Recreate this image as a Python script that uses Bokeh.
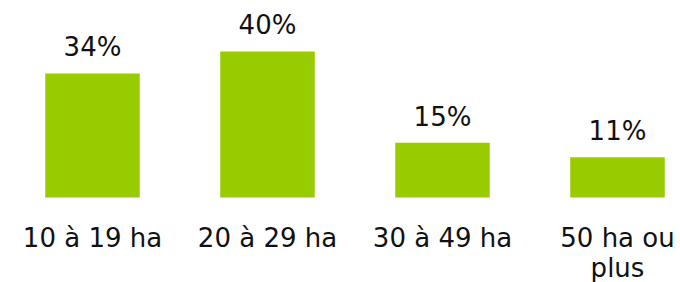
from bokeh.plotting import figure
from bokeh.models import ColumnDataSource, Range1d
from bokeh.core.properties import value
from bokeh.embed import file_html
from bokeh.resources import INLINE

categories = ["10 à 19 ha", "20 à 29 ha", "30 à 49 ha", "50 ha ou\nplus"]
values = [34, 40, 15, 11]
value_labels = ["34%", "40%", "15%", "11%"]

xs = list(range(len(categories)))
line1 = [c.split("\n")[0] for c in categories]
line2 = [c.split("\n")[1] if "\n" in c else "" for c in categories]
src = ColumnDataSource(dict(x=xs, top=values, l1=line1, l2=line2, lab=value_labels))

p = figure(width=680, height=282, output_backend="svg", toolbar_location=None,
           x_range=Range1d(-0.5257, 3.36), y_range=Range1d(-23.29, 53.97),
           min_border=0, outline_line_color=None)
p.axis.visible = False
p.grid.visible = False
p.background_fill_color = "white"
p.border_fill_color = "white"

p.vbar(x="x", top="top", bottom=0, width=0.54, source=src,
       fill_color="#99CC00", line_color=None)

common = dict(text_align="center", text_baseline="alphabetic",
              text_font=value("DejaVu Sans"), text_font_size="26px", text_color="#111111")

p.text(x="x", y="top", text="lab", source=src, y_offset=-26, **common)
p.text(x="x", y=0, text="l1", source=src, y_offset=41, **common)
p.text(x="x", y=0, text="l2", source=src, y_offset=71, **common)

open("out.html", "w").write(file_html(p, INLINE))
